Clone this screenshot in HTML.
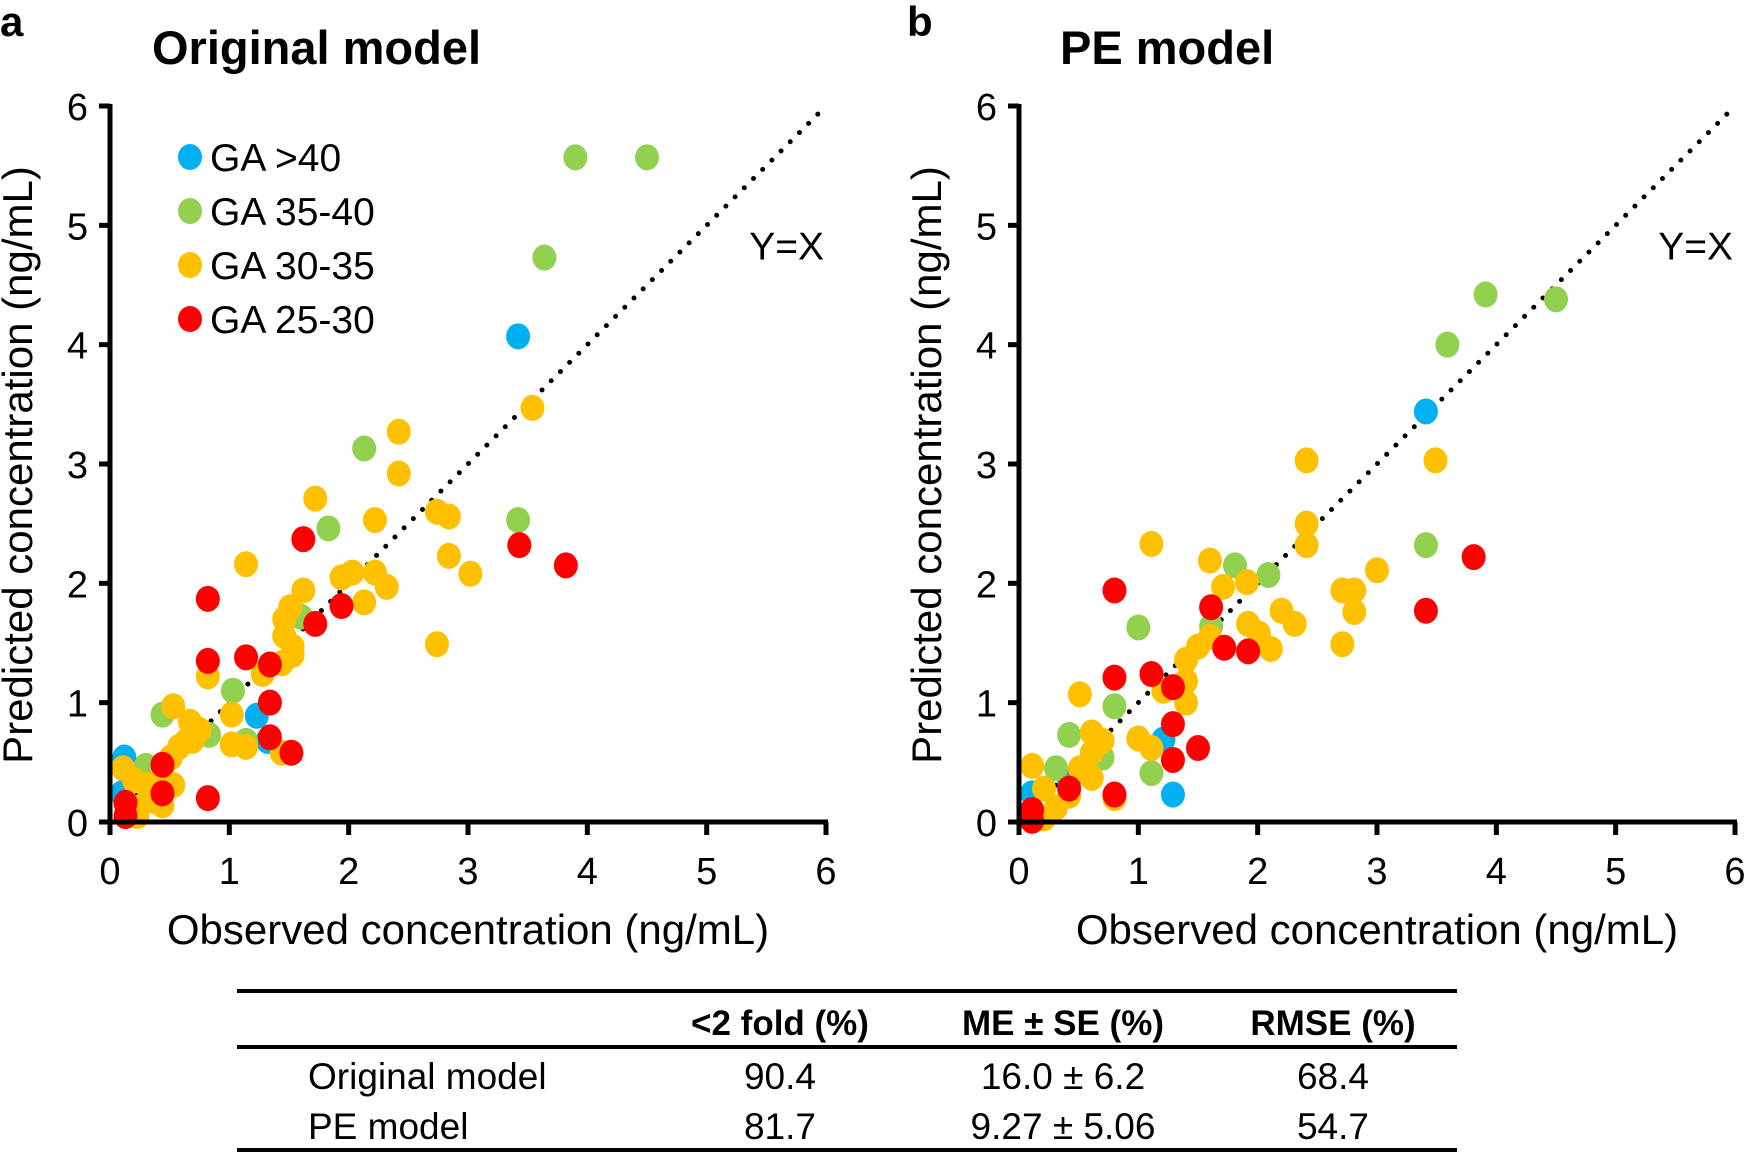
<!DOCTYPE html>
<html><head><meta charset="utf-8"><style>
html,body{margin:0;padding:0;background:#fff;}
svg{display:block;font-family:"Liberation Sans",sans-serif;}
</style></head><body>
<svg id="fig" width="1746" height="1153" viewBox="0 0 1746 1153" xmlns="http://www.w3.org/2000/svg">
<text x="0" y="36" font-size="42" font-weight="bold">a</text>
<text x="152" y="64" font-size="47" font-weight="bold">Original  model</text>
<text x="907" y="36" font-size="42" font-weight="bold">b</text>
<text x="1060" y="64" font-size="47" font-weight="bold">PE model</text>
<g id="pa"></g>
<g id="pb"></g>
<g font-size="37">
<line x1="237" y1="991" x2="1457" y2="991" stroke="#000" stroke-width="4"/>
<line x1="237" y1="1047" x2="1457" y2="1047" stroke="#000" stroke-width="4"/>
<line x1="237" y1="1150" x2="1457" y2="1150" stroke="#000" stroke-width="4"/>
<g font-weight="bold" text-anchor="middle" font-size="35">
<text x="780" y="1035">&lt;2 fold  (%)</text>
<text x="1063" y="1035">ME ± SE (%)</text>
<text x="1333" y="1035">RMSE (%)</text>
</g>
<text x="308" y="1089">Original model</text>
<text x="308" y="1139">PE model</text>
<g text-anchor="middle">
<text x="780" y="1089">90.4</text>
<text x="1063" y="1089">16.0 ± 6.2</text>
<text x="1333" y="1089">68.4</text>
<text x="780" y="1139">81.7</text>
<text x="1063" y="1139">9.27 ± 5.06</text>
<text x="1333" y="1139">54.7</text>
</g>
</g>
</svg>
<script>
const ticks=[0,1,2,3,4,5,6];
const colors={blue:"#00b0f0",green:"#92d050",orange:"#ffc000",red:"#ff0000"};
const groupOrder=["blue","green","orange","red"];
const legendLabels=["GA >40","GA 35-40","GA 30-35","GA 25-30"];
// Panel a data
const aBlueX=[3.42,0.12,0.10,1.23,1.32];
const aBlueY=[4.07,0.54,0.24,0.89,0.68];
const aGreenX=[3.9,4.5,3.64,2.13,1.83,3.42,1.6,1.03,0.83,0.44,0.3,1.14];
const aGreenY=[5.57,5.57,4.73,3.13,2.46,2.53,1.72,1.10,0.73,0.9,0.47,0.68];
const aOrangeX=[3.54,2.42,2.42,1.72,2.22,2.74,2.84,2.84,3.02,2.74,2.32,2.22,2.03,1.94,2.13,1.14,1.62,1.51,1.46,1.46,1.53,1.53,1.44,1.28,0.82,1.02,1.02,1.14,1.44,0.53,0.67,0.75,0.64,0.58,0.51,0.44,0.53,0.39,0.24,0.2,0.11,0.3,0.44,0.23,0.69];
const aOrangeY=[3.47,3.27,2.92,2.71,2.53,2.6,2.56,2.23,2.08,1.49,1.97,2.09,2.09,2.05,1.84,2.16,1.94,1.8,1.7,1.56,1.47,1.4,1.33,1.24,1.22,0.9,0.65,0.63,0.58,0.97,0.84,0.77,0.68,0.63,0.54,0.4,0.31,0.17,0.12,0.35,0.45,0.31,0.14,0.05,0.68];
const aRedX=[1.62,1.94,1.72,0.82,0.82,1.14,1.34,1.34,1.34,1.52,3.43,3.82,0.44,0.44,0.82,0.13,0.13];
const aRedY=[2.37,1.81,1.66,1.87,1.35,1.38,1.32,1.0,0.71,0.58,2.32,2.15,0.48,0.24,0.2,0.16,0.05];
// Panel b data
const bBlueX=[3.41,1.29,1.21,0.11,0.09,0.42];
const bBlueY=[3.44,0.23,0.69,0.24,0.07,0.34];
const bGreenX=[3.91,4.5,3.59,3.41,1.81,2.09,1.61,1.0,0.8,1.11,0.42,0.31,0.7];
const bGreenY=[4.42,4.38,4.0,2.32,2.15,2.07,1.64,1.63,0.97,0.41,0.73,0.45,0.54];
const bOrangeX=[2.41,3.49,2.41,2.41,3.0,2.71,2.81,2.81,2.71,2.2,2.31,1.6,1.91,1.71,1.11,1.92,2.01,2.11,1.6,1.5,1.4,1.4,1.4,1.21,1.0,1.11,0.51,0.61,0.7,0.61,0.51,0.42,0.21,0.11,0.31,0.21,0.8,0.61];
const bOrangeY=[3.03,3.03,2.5,2.32,2.11,1.94,1.94,1.76,1.49,1.77,1.66,2.19,2.01,1.97,2.33,1.66,1.58,1.45,1.55,1.47,1.36,1.18,1.0,1.1,0.7,0.62,1.07,0.75,0.68,0.58,0.45,0.22,0.28,0.47,0.12,0.03,0.2,0.37];
const bRedX=[3.81,3.41,1.61,0.8,1.72,1.92,1.11,1.29,0.8,1.29,1.5,1.29,0.8,0.42,0.11,0.11];
const bRedY=[2.22,1.77,1.80,1.94,1.46,1.43,1.24,1.13,1.21,0.82,0.62,0.52,0.23,0.28,0.1,0.01];

const NS="http://www.w3.org/2000/svg";
function mk(tag,attrs,parent,txt){const e=document.createElementNS(NS,tag);for(const k in attrs)e.setAttribute(k,attrs[k]);if(txt!==undefined)e.textContent=txt;parent.appendChild(e);return e;}
const Y0=822,Y6=106;
function yS(v){return Y0+(Y6-Y0)*v/6;}

function panel(g,x0,x6,series,showLegend){
  const xS=v=>x0+(x6-x0)*v/6;
  const dl=mk('line',{x1:xS(0),y1:yS(0),x2:xS(6),y2:yS(6),stroke:'#000','stroke-width':5,'stroke-dasharray':'0 13','stroke-linecap':'round'},g);
  
  
  const yx=mk('text',{x:xS(6)-2,y:yS(5)+34,'font-size':39,'text-anchor':'end'},g,'Y=X');
  
  
  groupOrder.forEach((c,gi)=>{
    const xs=series[c][0],ys=series[c][1];
    for(let i=0;i<xs.length;i++){
      const p=mk('ellipse',{cx:xS(xs[i]),cy:yS(ys[i]),rx:12,ry:13,fill:colors[c]},g);
      
      
    }
  });
  const ya=mk('line',{x1:x0,y1:Y6-2,x2:x0,y2:Y0+2,stroke:'#000','stroke-width':5},g);
  
  
  const xa=mk('line',{x1:x0-2,y1:Y0,x2:x6+2,y2:Y0,stroke:'#000','stroke-width':5},g);
  
  
  ticks.forEach(t=>{
    const a=mk('line',{x1:x0-11,y1:yS(t),x2:x0,y2:yS(t),stroke:'#000','stroke-width':5},g);
    
    
    const b=mk('text',{x:x0-22,y:yS(t)+14,'font-size':38,'text-anchor':'end'},g,String(t));
    
    
    const c=mk('line',{x1:xS(t),y1:Y0,x2:xS(t),y2:Y0+13,stroke:'#000','stroke-width':5},g);
    
    
    const d=mk('text',{x:xS(t),y:Y0+62,'font-size':38,'text-anchor':'middle'},g,String(t));
    
    
  });
  const xt=mk('text',{x:(x0+x6)/2,y:944,'font-size':42,'text-anchor':'middle'},g,'Observed concentration (ng/mL)');
  
  
  const ytx=x0-78;
  const yt=mk('text',{x:0,y:0,'font-size':42,'text-anchor':'middle',transform:`translate(${ytx},465) rotate(-90)`},g,'Predicted concentration (ng/mL)');
  
  
  if(showLegend){
    groupOrder.forEach((c,i)=>{
      const ly=157+i*54;
      const dot=mk('ellipse',{cx:190,cy:ly,rx:12,ry:13,fill:colors[c]},g);
      
      
      const lt=mk('text',{x:210,y:ly+14,'font-size':39},g,legendLabels[i]);
      
      
    });
  }
}
panel(document.getElementById('pa'),110,826,{blue:[aBlueX,aBlueY],green:[aGreenX,aGreenY],orange:[aOrangeX,aOrangeY],red:[aRedX,aRedY]},true);
panel(document.getElementById('pb'),1019,1735,{blue:[bBlueX,bBlueY],green:[bGreenX,bGreenY],orange:[bOrangeX,bOrangeY],red:[bRedX,bRedY]},false);
</script>
</body></html>
